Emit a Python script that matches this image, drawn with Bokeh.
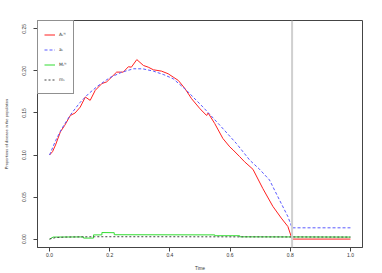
import math
from bokeh.plotting import figure
from bokeh.models import (FixedTicker, PrintfTickFormatter, Span, Legend,
                          LegendItem, Range1d)
from bokeh.embed import file_html
from bokeh.resources import INLINE

# ---- data ----
red_t = [0.000, 0.010, 0.020, 0.036, 0.050, 0.069, 0.085, 0.102, 0.119, 0.135,
         0.152, 0.174, 0.190, 0.207, 0.223, 0.235, 0.245, 0.262, 0.272, 0.290,
         0.312, 0.328, 0.345, 0.372, 0.394, 0.411, 0.428, 0.450, 0.472, 0.500,
         0.522, 0.527, 0.549, 0.576, 0.599, 0.610, 0.632, 0.648, 0.676, 0.709,
         0.742, 0.770, 0.792, 0.806, 1.000]
red_v = [0.100, 0.104, 0.112, 0.1275, 0.135, 0.147, 0.150, 0.157, 0.169, 0.165,
         0.177, 0.185, 0.187, 0.193, 0.1986, 0.1986, 0.1986, 0.205, 0.2045, 0.2135,
         0.2065, 0.2045, 0.2014, 0.1998, 0.1967, 0.1927, 0.1887, 0.179, 0.167, 0.155,
         0.147, 0.150, 0.1374, 0.1197, 0.1097, 0.106, 0.098, 0.092, 0.083, 0.060,
         0.039, 0.025, 0.015, 0.000, 0.000]

blue_t = [0.000, 0.020, 0.040, 0.070, 0.100, 0.130, 0.160, 0.200, 0.240, 0.279,
          0.310, 0.345, 0.380, 0.411, 0.455, 0.510, 0.566, 0.621, 0.665, 0.698,
          0.731, 0.764, 0.792, 0.806, 1.000]
blue_v = [0.100, 0.117, 0.131, 0.148, 0.162, 0.173, 0.182, 0.192, 0.1985, 0.2026,
          0.2025, 0.1998, 0.1955, 0.1907, 0.177, 0.157, 0.1354, 0.1137, 0.094, 0.083,
          0.0703, 0.0466, 0.0268, 0.0134, 0.0134]

green_t = [0.000, 0.012, 0.113, 0.113, 0.146, 0.146, 0.174, 0.174, 0.215, 0.215,
           0.549, 0.549, 0.632, 0.632, 1.000]
green_v = [0.000, 0.0024, 0.0026, 0.0012, 0.0012, 0.0050, 0.0050, 0.0078, 0.0076, 0.0052,
           0.0050, 0.0040, 0.0040, 0.0027, 0.0024]

grey_t = [0.000, 0.020, 0.050, 0.150, 0.400, 0.700, 1.000]
grey_v = [0.000, 0.0018, 0.0024, 0.0028, 0.0028, 0.0026, 0.0024]

cutoff_time = 0.806

x_ticks = [0.0, 0.2, 0.4, 0.6, 0.8, 1.0]
y_ticks = [0.00, 0.05, 0.10, 0.15, 0.20, 0.25]

legend_labels = ["A\u209c\u1d3a", "a\u209c", "M\u209c\u1d3a", "m\u209c"]

FONT = "Liberation Sans"

p = figure(width=382, height=273,
           x_range=Range1d(-0.04, 1.04), y_range=Range1d(-0.01, 0.26),
           output_backend="svg", toolbar_location=None,
           min_border_left=37, min_border_right=20,
           min_border_top=20, min_border_bottom=26)
p.grid.visible = False
p.outline_line_color = "#444444"
p.outline_line_width = 1
p.background_fill_color = "white"
p.border_fill_color = "white"

# x axis
xa = p.xaxis[0]
xa.ticker = FixedTicker(ticks=x_ticks)
xa.formatter = PrintfTickFormatter(format="%.1f")
xa.minor_tick_line_color = None
xa.major_tick_in = 0
xa.major_tick_out = 4
xa.major_tick_line_color = "#444444"
xa.axis_line_color = "#444444"
xa.major_label_text_font = FONT
xa.major_label_text_font_size = "5px"
xa.major_label_text_color = "#333333"
xa.major_label_standoff = 1
xa.axis_label = "Time"
xa.axis_label_text_font = FONT
xa.axis_label_text_font_size = "4.5px"
xa.axis_label_text_font_style = "normal"
xa.axis_label_text_color = "#333333"
xa.axis_label_standoff = 6

# y axis
ya = p.yaxis[0]
ya.ticker = FixedTicker(ticks=y_ticks)
ya.formatter = PrintfTickFormatter(format="%.2f")
ya.minor_tick_line_color = None
ya.major_tick_in = 0
ya.major_tick_out = 4
ya.major_tick_line_color = "#444444"
ya.axis_line_color = "#444444"
ya.major_label_orientation = "vertical"
ya.major_label_text_font = FONT
ya.major_label_text_font_size = "5px"
ya.major_label_text_color = "#333333"
ya.major_label_standoff = 7
ya.axis_label = "Proportions of disease in the population"
ya.axis_label_text_font = FONT
ya.axis_label_text_font_size = "4px"
ya.axis_label_text_font_style = "normal"
ya.axis_label_text_color = "#333333"
ya.axis_label_standoff = 11

# vertical cutoff line
p.add_layout(Span(location=cutoff_time, dimension="height",
                  line_color="#d0d0d0", line_width=2))

r_red = p.line(red_t, red_v, line_color="#ff2020", line_width=1)
r_blue = p.line(blue_t, blue_v, line_color="#5a5aff", line_width=1,
                line_dash="3 2")
r_green = p.line(green_t, green_v, line_color="#33dd33", line_width=1)
r_grey = p.line(grey_t, grey_v, line_color="#444444", line_width=1,
                line_dash="2 2")

legend = Legend(items=[LegendItem(label=legend_labels[0], renderers=[r_red]),
                       LegendItem(label=legend_labels[1], renderers=[r_blue]),
                       LegendItem(label=legend_labels[2], renderers=[r_green]),
                       LegendItem(label=legend_labels[3], renderers=[r_grey])],
                location="top_left", margin=0, padding=6, spacing=0,
                glyph_height=15, glyph_width=11, label_height=15,
                label_width=8, label_standoff=4,
                label_text_font="DejaVu Sans", label_text_font_size="4.5px",
                label_text_color="#333333",
                border_line_color="#222222", border_line_width=1,
                background_fill_color="white", background_fill_alpha=1)
p.add_layout(legend)

open("out.html", "w").write(file_html(p, INLINE))
